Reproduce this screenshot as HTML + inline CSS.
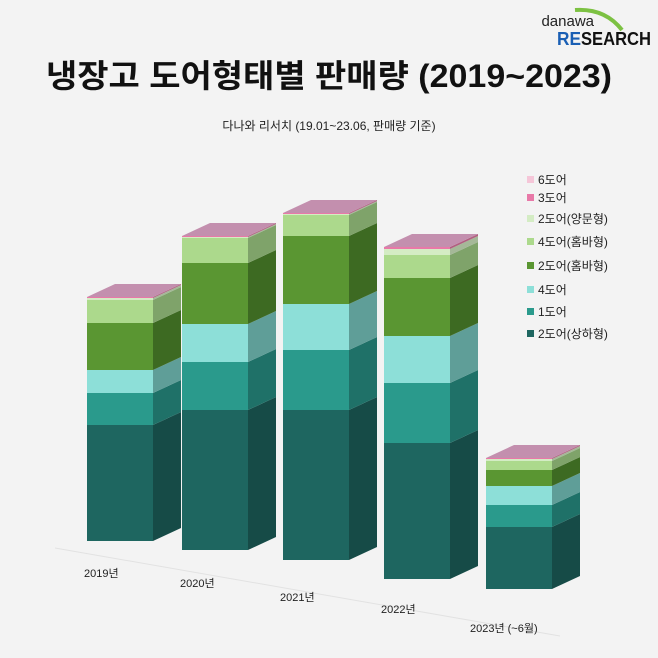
<!DOCTYPE html><html><head><meta charset="utf-8"><style>body{margin:0;background:#f3f3f3}svg{display:block}text{font-family:"Liberation Sans","Noto Sans CJK KR",sans-serif}</style></head><body>
<svg width="658" height="658" viewBox="0 0 658 658">
<rect width="658" height="658" fill="#f3f3f3"/>
<text x="594" y="26" font-size="15" fill="#222" text-anchor="end">danawa</text>
<path d="M575 10 Q605 8 622 30" stroke="#7cc142" stroke-width="4" fill="none"/>
<text x="557" y="45" font-size="18" font-weight="bold" fill="#1a5fb4" textLength="24" lengthAdjust="spacingAndGlyphs">RE</text>
<text x="581" y="45" font-size="18" font-weight="bold" fill="#111" textLength="70" lengthAdjust="spacingAndGlyphs">SEARCH</text>
<text x="329" y="87" font-size="32" font-weight="bold" fill="#111" text-anchor="middle" textLength="566" lengthAdjust="spacingAndGlyphs">냉장고 도어형태별 판매량 (2019~2023)</text>
<text x="329" y="130" font-size="12" fill="#222" text-anchor="middle">다나와 리서치 (19.01~23.06, 판매량 기준)</text>
<line x1="55" y1="548" x2="560" y2="636" stroke="#e2e2e2" stroke-width="1"/>
<g id="bars"></g>
<g font-size="11" fill="#222">
<text x="84" y="577">2019년</text><text x="180" y="587">2020년</text><text x="280" y="601">2021년</text><text x="381" y="613">2022년</text><text x="470" y="632">2023년 (~6월)</text>
</g>
<g font-size="12" fill="#222">
<rect x="527" y="176" width="7" height="7" fill="#f5c6d8"/><text x="538" y="184">6도어</text>
<rect x="527" y="194" width="7" height="7" fill="#e879a8"/><text x="538" y="202">3도어</text>
<rect x="527" y="215" width="7" height="7" fill="#d4ecc4"/><text x="538" y="223">2도어(양문형)</text>
<rect x="527" y="238" width="7" height="7" fill="#acd98c"/><text x="538" y="246">4도어(홈바형)</text>
<rect x="527" y="262" width="7" height="7" fill="#5a9632"/><text x="538" y="270">2도어(홈바형)</text>
<rect x="527" y="286" width="7" height="7" fill="#8ddfd8"/><text x="538" y="294">4도어</text>
<rect x="527" y="308" width="7" height="7" fill="#2a9a8c"/><text x="538" y="316">1도어</text>
<rect x="527" y="330" width="7" height="7" fill="#1e6660"/><text x="538" y="338">2도어(상하형)</text>
</g>
</svg>
<script>
const C=[["#1e6660","#164b47"],["#2a9a8c","#1f7168"],["#8ddfd8","#5f9e98"],["#5a9632","#3d6a22"],["#acd98c","#7fa36a"],["#d4ecc4","#a5b898"],["#e879a8","#b06080"]];
const B=[[87,[541,425,393,370,323,300,298,297]],[182,[550,410,362,324,263,238,237,236]],[283,[560,410,350,304,236,215,214,213]],[384,[579,443,383,336,278,255,249,247]],[486,[589,527,505,486,470,461,459,458]]];
const W=66,DX=28,DY=-13;let s="";
for(const [x,b] of B){for(let i=0;i<7;i++){const y1=b[i],y2=b[i+1];if(y1-y2<=0)continue;
s+=`<rect x="${x}" y="${y2}" width="${W}" height="${y1-y2}" fill="${C[i][0]}"/>`;
s+=`<polygon points="${x+W},${y1} ${x+W+DX},${y1+DY} ${x+W+DX},${y2+DY} ${x+W},${y2}" fill="${C[i][1]}"/>`;}
const t=b[7];s+=`<polygon points="${x},${t} ${x+W},${t} ${x+W+DX},${t+DY} ${x+DX},${t+DY}" fill="#c38fae"/>`;}
document.getElementById("bars").innerHTML=s;
</script>
</body></html>
